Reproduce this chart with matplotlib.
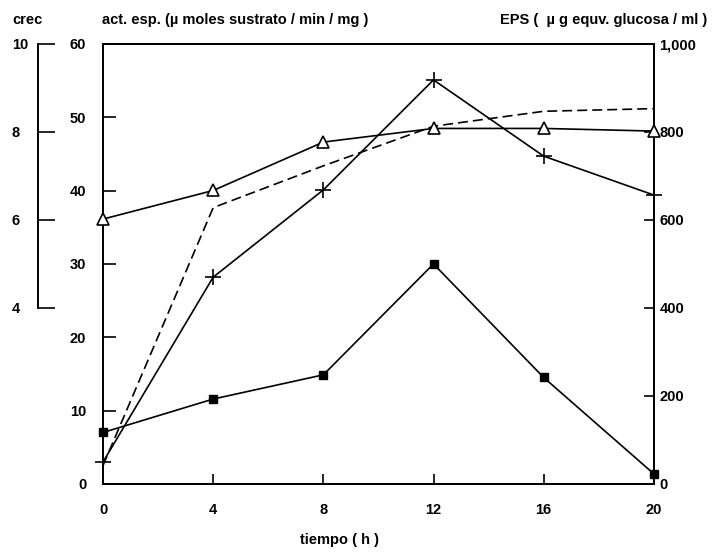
import matplotlib.pyplot as plt
from matplotlib.ticker import FuncFormatter

plt.rcParams['font.family'] = ['Liberation Sans', 'DejaVu Sans']
plt.rcParams['font.weight'] = 'bold'
plt.rcParams['font.size'] = 10.5

# data
tiempo = [0, 4, 8, 12, 16, 20]
act_esp = [3.0, 28.2, 40.1, 55.1, 44.7, 39.4]          # crosses, left axis
crec = [6.02, 6.67, 7.77, 8.08, 8.08, 8.02]            # triangles, growth axis
eps_dash = [42, 628, 723, 813, 847, 853]               # dashed line, right axis
eps_sq = [117, 193, 248, 500, 242, 23]                 # squares, right axis

x_ticks = [0, 4, 8, 12, 16, 20]
left_ticks = [0, 10, 20, 30, 40, 50, 60]
right_ticks = [0, 200, 400, 600, 800, 1000]
crec_ticks = [4, 6, 8, 10]

fig = plt.figure(figsize=(7.13, 5.55), dpi=100)
ax = fig.add_axes([0.1445, 0.128, 0.7725, 0.7928])
ax2 = ax.twinx()
ax3 = ax.twinx()

lw = 1.2
ax.plot(tiempo, act_esp, color='black', lw=lw, marker='+', ms=12, mew=1.2, clip_on=False)
ax2.plot(tiempo, eps_dash, color='black', lw=lw, ls=(0, (6, 3)), clip_on=False)
ax2.plot(tiempo, eps_sq, color='black', lw=lw, marker='s', ms=6, clip_on=False)
ax3.plot(tiempo, crec, color='black', lw=lw, marker='^', ms=9, mfc='white', mew=1.2, clip_on=False)

ax.set_xlim(0, 20)
ax.set_ylim(0, 60)
ax2.set_ylim(0, 1000)
ax3.set_ylim(0, 10)

for s in ax.spines.values():
    s.set_linewidth(1.4)
for s in ax2.spines.values():
    s.set_linewidth(1.4)

ax.set_xticks(x_ticks)
ax.set_yticks(left_ticks)
ax.tick_params(axis='x', direction='in', length=7, width=1.2, pad=14)
ax.tick_params(axis='y', direction='in', length=9, width=1.2, pad=12)

ax2.set_yticks(right_ticks)
ax2.yaxis.set_major_formatter(FuncFormatter(lambda v, p: f"{int(v):,}"))
ax2.tick_params(axis='y', direction='in', length=7, width=1.2, pad=4)

# growth axis: separate spine on the far left, drawn from 4 to 10
for k in ['top', 'right', 'bottom']:
    ax3.spines[k].set_visible(False)
ax3.spines['left'].set_visible(True)
ax3.spines['left'].set_position(('axes', -0.118))
ax3.spines['left'].set_bounds(4, 10)
ax3.spines['left'].set_linewidth(1.4)
ax3.yaxis.set_ticks_position('left')
ax3.set_yticks(crec_ticks)
ax3.tick_params(axis='y', direction='in', length=12, width=1.2, pad=19)
for lab in ax3.get_yticklabels():
    lab.set_horizontalalignment('left')

fig.text(12 / 713, 1 - 20 / 555, "crec", va='center', ha='left')
fig.text(102 / 713, 1 - 20 / 555, "act. esp. (\u00b5 moles sustrato / min / mg )", va='center', ha='left')
fig.text(707 / 713, 1 - 20 / 555, "EPS (  \u00b5 g equv. glucosa / ml )", va='center', ha='right')
fig.text(340 / 713, 1 - 540 / 555, "tiempo ( h )", va='center', ha='center')

fig.savefig('out.png', dpi=100)
